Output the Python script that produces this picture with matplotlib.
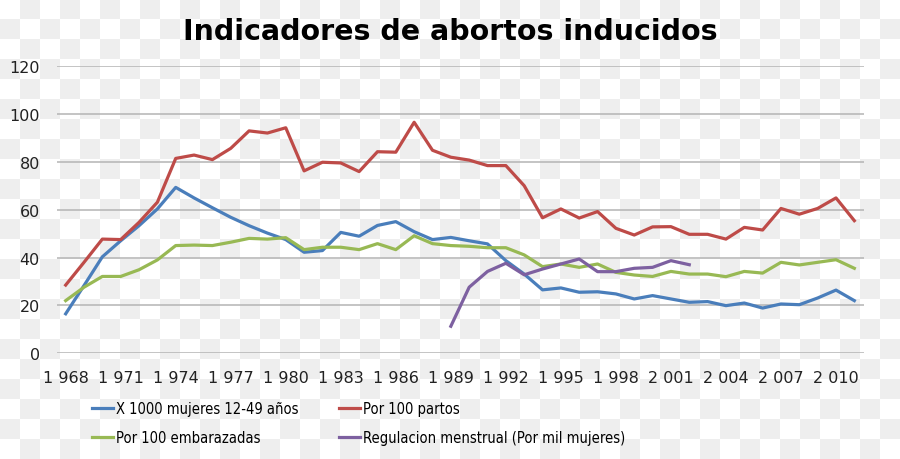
import numpy as np
import matplotlib
matplotlib.use("Agg")
import matplotlib.pyplot as plt
from matplotlib.ticker import FixedLocator, FixedFormatter

years = list(range(1968, 2012))
mujeres_1000 = [16.5, 28.3, 40.3, 47.0, 53.3, 60.3, 69.3, 64.9, 60.8, 56.8,
                53.3, 50.2, 47.5, 42.2, 42.9, 50.5, 48.9, 53.4, 55.0, 50.8,
                47.5, 48.4, 47.0, 45.7, 38.7, 33.1, 26.5, 27.3, 25.5, 25.7,
                24.8, 22.7, 24.1, 22.7, 21.3, 21.6, 19.9, 21.0, 18.9, 20.6,
                20.3, 23.1, 26.4, 22.0]
por_100_partos = [28.5, 38.0, 47.7, 47.5, 54.7, 63.1, 81.4, 82.8, 80.9, 85.6,
                  92.9, 92.0, 94.2, 76.2, 79.8, 79.5, 75.9, 84.2, 84.0, 96.5,
                  84.8, 81.9, 80.7, 78.4, 78.4, 70.0, 56.6, 60.3, 56.5, 59.2,
                  52.2, 49.4, 52.8, 52.9, 49.7, 49.7, 47.7, 52.6, 51.5, 60.5,
                  58.1, 60.5, 64.9, 55.4]
por_100_embarazadas = [22.0, 27.6, 32.1, 32.1, 34.9, 39.0, 45.0, 45.2, 45.0, 46.4,
                       48.0, 47.7, 48.3, 43.3, 44.3, 44.3, 43.3, 45.8, 43.3, 49.1,
                       45.8, 45.0, 44.7, 44.1, 44.1, 41.1, 36.2, 37.3, 35.9, 37.3,
                       33.8, 32.7, 32.1, 34.2, 33.1, 33.1, 32.0, 34.2, 33.5, 38.0,
                       36.9, 38.0, 39.1, 35.5]
regulacion_years = list(range(1989, 2003))
regulacion = [11.3, 27.6, 34.2, 37.6, 32.8, 35.2, 37.3, 39.4, 34.1, 34.1,
              35.5, 35.9, 38.7, 37.0]

labels = ["X 1000 mujeres 12-49 años", "Por 100 partos",
          "Por 100 embarazadas", "Regulacion menstrual (Por mil mujeres)"]
colors = ["#4A7EBB", "#BE4B48", "#98B954", "#7D60A0"]
title = "Indicadores de abortos inducidos"

W, H = 900, 460
fig = plt.figure(figsize=(W / 100, H / 100), dpi=100, facecolor="white")

# transparency-style checker background as in the reference
sq = 20
rows, cols = H // sq + 1, W // sq + 1
ii, jj = np.meshgrid(np.arange(cols), np.arange(rows))
checker = np.where((ii + jj) % 2 == 1, 0.937, 1.0)
big = np.kron(checker, np.ones((sq, sq)))[:H, :W]
fig.figimage(np.dstack([big, big, big]), xo=0, yo=0, origin="upper", zorder=-10)

ax = fig.add_axes([56.5 / W, 1 - 354.3 / H, (863.5 - 56.5) / W, (354.3 - 67) / H])
ax.set_facecolor("none")
ax.set_zorder(5)

x_main = np.arange(len(years))
x_reg = np.array([years.index(y) for y in regulacion_years])

l1, = ax.plot(x_main, mujeres_1000, color=colors[0], lw=2.3, solid_joinstyle="round")
l2, = ax.plot(x_main, por_100_partos, color=colors[1], lw=2.3, solid_joinstyle="round")
l3, = ax.plot(x_main, por_100_embarazadas, color=colors[2], lw=2.3, solid_joinstyle="round")
l4, = ax.plot(x_reg, regulacion, color=colors[3], lw=2.3, solid_joinstyle="round")

ax.set_xlim(-0.5, len(years) - 0.5)
ax.set_ylim(0, 120)
ax.set_yticks(range(0, 121, 20))
ax.yaxis.grid(True, color="#b4b4b4", lw=1.1)
ax.set_axisbelow(True)
for s in ax.spines.values():
    s.set_visible(False)

tick_idx = list(range(0, len(years), 3))
ax.xaxis.set_major_locator(FixedLocator(tick_idx))
ax.xaxis.set_major_formatter(FixedFormatter(
    [f"{years[i]:,}".replace(",", " ") for i in tick_idx]))
ax.tick_params(axis="both", length=0, labelsize=11.5, colors="#222222")
ax.tick_params(axis="x", pad=12)
ax.tick_params(axis="y", pad=12)

fig.text(0.5, 1 - 32 / H, title, ha="center", va="center",
         fontsize=20.5, fontweight="bold", color="black", zorder=6)

leg = fig.legend([l1, l3, l2, l4], [labels[0], labels[2], labels[1], labels[3]],
                 ncol=2, loc="upper left", bbox_to_anchor=(92 / W, 1 - 402 / H),
                 frameon=False, borderpad=0, borderaxespad=0,
                 handlelength=1.45, handletextpad=0.2, columnspacing=2.75,
                 labelspacing=0.95,
                 prop={"family": "DejaVu Sans", "stretch": "condensed", "size": 10.5})
leg.set_zorder(6)

fig.savefig("out.png", dpi=100, facecolor="white")
